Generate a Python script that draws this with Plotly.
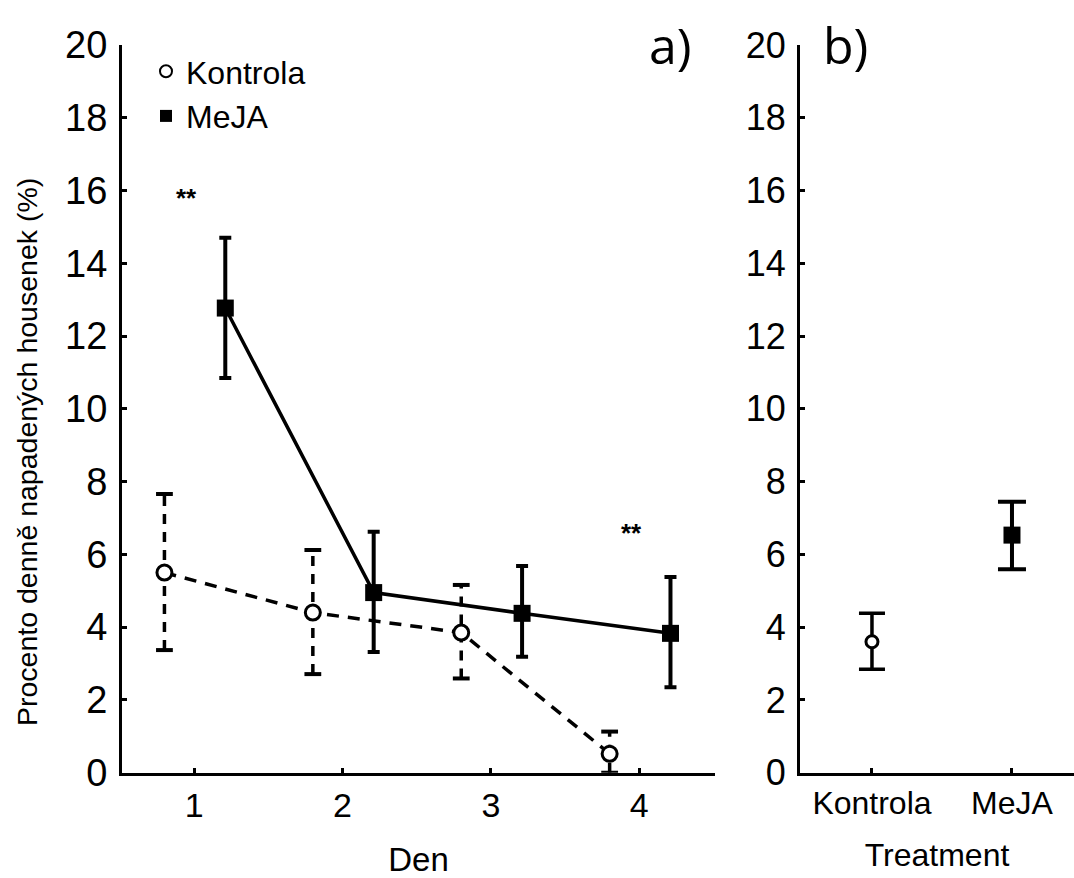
import plotly.graph_objects as go

# ---- data ----
days = [1, 2, 3, 4]
kontrola_mean = [5.5, 4.4, 3.85, 0.52]
kontrola_lo = [3.37, 2.71, 2.59, 0.0]
kontrola_hi = [7.66, 6.12, 5.16, 1.13]
meja_mean = [12.77, 4.95, 4.38, 3.83]
meja_lo = [10.85, 3.32, 3.19, 2.35]
meja_hi = [14.7, 6.62, 5.68, 5.38]

treatments = ["Kontrola", "MeJA"]
treat_mean = [3.6, 6.53]
treat_lo = [2.84, 5.59]
treat_hi = [4.38, 7.45]

sig_days = [1, 4]
sig_y = [15.8, 6.6]
sig_text = ["**", "**"]

y_ticks = list(range(0, 21, 2))

# ---- style ----
FONT = "Liberation Sans"
K_OFF, M_OFF = -0.2, 0.21
W, H = 1074, 878

kx = [d + K_OFF for d in days]
mx = [d + M_OFF for d in days]

fig = go.Figure()

# Kontrola dashed error bars (panel a)
eb_x, eb_y = [], []
for x, lo, hi in zip(kx, kontrola_lo, kontrola_hi):
    eb_x += [x, x, None]
    eb_y += [lo, hi, None]
fig.add_trace(go.Scatter(
    x=eb_x, y=eb_y, mode="lines+markers", showlegend=False, hoverinfo="skip",
    line=dict(color="black", width=3.5, dash="10px,8px"),
    marker=dict(symbol="line-ew", size=12, line=dict(color="black", width=4)),
    xaxis="x", yaxis="y"))

# Kontrola line (panel a)
fig.add_trace(go.Scatter(
    x=kx, y=kontrola_mean, mode="lines+markers", name="Kontrola", showlegend=False,
    line=dict(color="black", width=3.5, dash="12px,9px"),
    marker=dict(symbol="circle", size=15, color="white", line=dict(color="black", width=3)),
    xaxis="x", yaxis="y"))

# MeJA line (panel a)
fig.add_trace(go.Scatter(
    x=mx, y=meja_mean, mode="lines+markers", name="MeJA", showlegend=False,
    line=dict(color="black", width=3.5),
    marker=dict(symbol="square", size=17, color="black"),
    error_y=dict(type="data", symmetric=False,
                 array=[h - m for h, m in zip(meja_hi, meja_mean)],
                 arrayminus=[m - l for m, l in zip(meja_mean, meja_lo)],
                 color="black", thickness=4, width=6),
    xaxis="x", yaxis="y"))

# legend entries
fig.add_trace(go.Scatter(
    x=[None], y=[None], mode="markers", name="Kontrola",
    marker=dict(symbol="circle", size=15, color="white", line=dict(color="black", width=3)),
    xaxis="x", yaxis="y"))
fig.add_trace(go.Scatter(
    x=[None], y=[None], mode="markers", name="MeJA",
    marker=dict(symbol="square", size=17, color="black"),
    xaxis="x", yaxis="y"))

# Panel b
tx = list(range(len(treatments)))
fig.add_trace(go.Scatter(
    x=[tx[0]], y=[treat_mean[0]], mode="markers", showlegend=False,
    marker=dict(symbol="circle", size=12, color="white", line=dict(color="black", width=3)),
    error_y=dict(type="data", symmetric=False,
                 array=[treat_hi[0] - treat_mean[0]],
                 arrayminus=[treat_mean[0] - treat_lo[0]],
                 color="black", thickness=3.5, width=13),
    xaxis="x2", yaxis="y2"))
fig.add_trace(go.Scatter(
    x=[tx[1]], y=[treat_mean[1]], mode="markers", showlegend=False,
    marker=dict(symbol="square", size=17, color="black"),
    error_y=dict(type="data", symmetric=False,
                 array=[treat_hi[1] - treat_mean[1]],
                 arrayminus=[treat_mean[1] - treat_lo[1]],
                 color="black", thickness=4, width=14),
    xaxis="x2", yaxis="y2"))

annotations = []
for d, yv, t in zip(sig_days, sig_y, sig_text):
    annotations.append(dict(x=d - 0.05, y=yv, xref="x", yref="y", text="<b>" + t + "</b>",
                            showarrow=False, xanchor="center", yanchor="middle",
                            font=dict(family=FONT, size=26, color="black")))
annotations.append(dict(x=670 / W, y=1 - 45 / H, xref="paper", yref="paper", text="a)",
                        xanchor="center", yanchor="middle", showarrow=False,
                        font=dict(family="Open Sans", size=50, color="black")))
annotations.append(dict(x=845 / W, y=1 - 45 / H, xref="paper", yref="paper", text="b)",
                        xanchor="center", yanchor="middle", showarrow=False,
                        font=dict(family="Open Sans", size=50, color="black")))
annotations.append(dict(x=27 / W, y=1 - 452 / H, xref="paper", yref="paper",
                        text="Procento denně napadených housenek (%)", textangle=-90,
                        xanchor="center", yanchor="middle", showarrow=False,
                        font=dict(family=FONT, size=28.5, color="black")))

axis_common = dict(showline=True, linecolor="black", linewidth=3, ticks="inside",
                   ticklen=5, tickwidth=3, tickcolor="black", showgrid=False,
                   zeroline=False, automargin=False)

ydom = [(H - 772.7) / H, (H - 45) / H]

fig.update_layout(
    width=W, height=H, margin=dict(l=0, r=0, t=0, b=0),
    paper_bgcolor="white", plot_bgcolor="white",
    font=dict(family=FONT, color="black"),
    showlegend=True,
    legend=dict(x=146 / W, y=1 - 44 / H, xanchor="left", yanchor="top",
                bgcolor="rgba(0,0,0,0)", font=dict(family=FONT, size=32, color="black"),
                itemsizing="constant", tracegroupgap=0),
    xaxis=dict(domain=[122 / W, 715 / W], range=[0.514, 4.51], tickvals=days,
               tickfont=dict(family=FONT, size=34),
               title=dict(text="Den", font=dict(family=FONT, size=33), standoff=28),
               anchor="y", **axis_common),
    yaxis=dict(domain=ydom, range=[0, 20], tickvals=y_ticks, tickfont=dict(family=FONT, size=38),
               ticklabelstandoff=4, anchor="x", **axis_common),
    xaxis2=dict(domain=[800 / W, 1.0], range=[-0.514, 1.443], tickvals=tx, ticktext=treatments,
                tickfont=dict(family=FONT, size=32),
                title=dict(text="Treatment", font=dict(family=FONT, size=32), standoff=24),
                anchor="y2", **axis_common),
    yaxis2=dict(domain=ydom, range=[0, 20], tickvals=y_ticks, tickfont=dict(family=FONT, size=36),
                ticklabelstandoff=4, anchor="x2", **axis_common),
    annotations=annotations,
)

fig.write_html("out.html")
